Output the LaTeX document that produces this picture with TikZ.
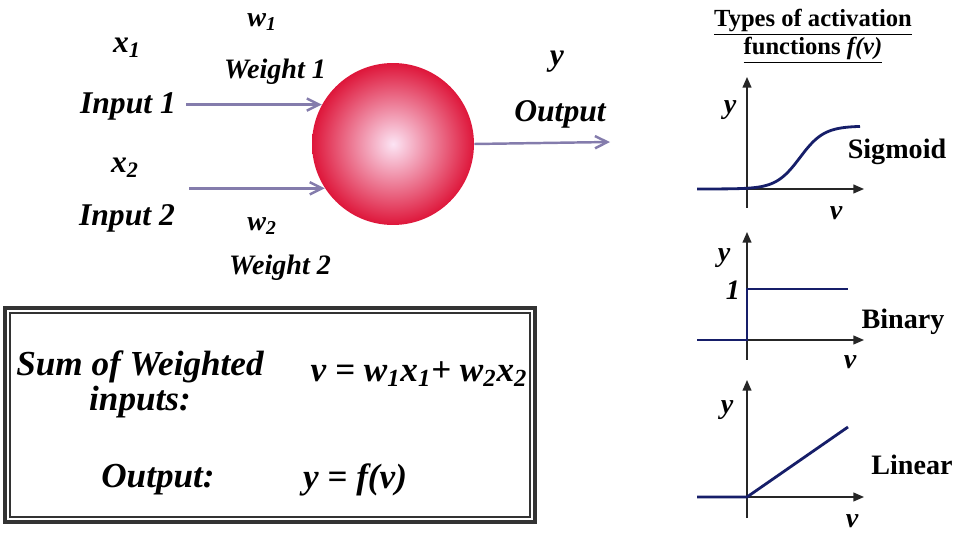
\documentclass[tikz,border=0pt]{standalone}
\usepackage{fontspec}
\setmainfont{Liberation Serif}
\usetikzlibrary{arrows.meta, positioning, calc}

\definecolor{neuronred}{RGB}{222,22,58}
\definecolor{neuroncore}{RGB}{252,228,244}
\definecolor{wirepurple}{RGB}{132,124,172}
\definecolor{curvenavy}{RGB}{22,30,105}

\begin{document}
\begin{tikzpicture}[x=0.02cm, y=-0.02cm,
  lbl/.style={font=\fontsize{18}{20}\selectfont\bfseries\itshape, inner sep=1pt},
  wlbl/.style={font=\fontsize{16}{18}\selectfont\bfseries\itshape, inner sep=1pt},
  boxtxt/.style={font=\fontsize{20}{20}\selectfont\bfseries\itshape, align=center, inner sep=1pt},
  fname/.style={font=\fontsize{16}{18}\selectfont\bfseries, inner sep=1pt},
  axlbl/.style={font=\fontsize{16}{18}\selectfont\bfseries\itshape, inner sep=1pt},
  wire/.style={-{Straight Barb[length=7pt,width=7pt]}, line width=1.4pt, wirepurple},
  axis/.style={-{Triangle[length=6pt,width=5pt]}, line width=0.8pt, black!85},
  fcurve/.style={line width=1.6pt, curvenavy}
]
  \useasboundingbox (0,0) rectangle (960,533);

  % Neuron
  \node[circle, minimum size=3.24cm, inner sep=0pt,
        inner color=neuroncore, outer color=neuronred] (neuron) at (393,144) {};

  % Inputs and weights
  \node[lbl]  (x1)   at (127,48)  {x\textsubscript{1}};
  \node[lbl]  (in1)  at (128,106) {Input 1};
  \node[wlbl] (w1)   at (262,22)  {w\textsubscript{1}};
  \node[wlbl] (wt1)  at (275,72)  {Weight 1};
  \node[lbl]  (x2)   at (125,168) {x\textsubscript{2}};
  \node[lbl]  (in2)  at (127,218) {Input 2};
  \node[wlbl] (w2)   at (262,226) {w\textsubscript{2}};
  \node[wlbl] (wt2)  at (280,268) {Weight 2};
  \node[lbl]  (ylbl) at (557,62)  {y};
  \node[lbl]  (out)  at (560,114) {Output};
  \coordinate (yout) at (610,142);

  \draw[wire] ($(neuron.151 -| in1.east)+(8,0)$) -- (neuron.151);
  \draw[wire] ($(neuron.213 -| in2.east)+(12,0)$) -- (neuron.213);
  \draw[wire] (neuron.east) -- (yout);

  % Summary box
  \draw[line width=1.8pt, black!80] (5,308) rectangle (535,522);
  \draw[line width=0.6pt, black!80] (10,313) rectangle (530,517);
  \node[boxtxt] (sumlbl) at (140,384) {Sum of Weighted\\inputs:};
  \node[boxtxt] (sumeq)  at (419,374) {v = w\textsubscript{1}x\textsubscript{1}+ w\textsubscript{2}x\textsubscript{2}};
  \node[boxtxt] (outlbl) at (158,480) {Output:};
  \node[boxtxt] (outeq)  at (355,480) {y = f(v)};

  % Activation functions
  \node[font=\fontsize{14}{16}\selectfont\bfseries, align=center, inner sep=1pt] (title) at (813,36)
    {\underline{Types of activation}\\\underline{functions \textit{f(v)}}};

  % sigmoid
  \draw[axis] (747,208) -- (747,77);
  \draw[axis] (697,189) -- (864,189);
  \draw[fcurve] plot[domain=697:860, samples=80, smooth] (\x, {189-63/(1+exp(-(\x-800)/12))});
  \node[axlbl] (sy) at (730,110) {y};
  \node[axlbl] (sv) at (836,213) {v};
  \node[fname] (sig) at (897,152) {Sigmoid};

  % binary
  \draw[axis] (747,360) -- (747,232);
  \draw[axis] (697,340) -- (864,340);
  \draw[fcurve] (697,340) -- (747,340) -- (747,289) -- (848,289);
  \node[axlbl] (by) at (724,258) {y};
  \node[axlbl] (bone) at (733,290) {1};
  \node[axlbl] (bv) at (850,362) {v};
  \node[fname] (bin) at (903,322) {Binary};

  % linear
  \draw[axis] (747,518) -- (747,380);
  \draw[axis] (697,497) -- (864,497);
  \draw[fcurve] (697,497) -- (747,497) -- (848,427);
  \node[axlbl] (ly) at (727,410) {y};
  \node[axlbl] (lv) at (852,521) {v};
  \node[fname] (lin) at (912,465) {Linear};
\end{tikzpicture}
\end{document}
